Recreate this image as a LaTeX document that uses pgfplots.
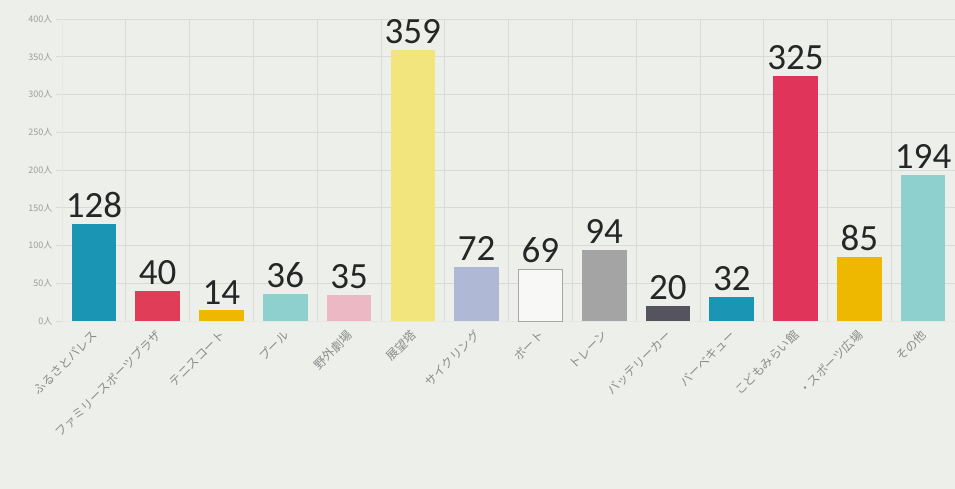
\documentclass[border=0pt]{standalone}
\usepackage{pgfplots}
\pgfplotsset{compat=1.18}
\usepackage{fontspec}
\setmainfont{Noto Sans CJK JP}
\newfontfamily\carlito{Carlito}
\usetikzlibrary{backgrounds,calc}
\definecolor{bg}{HTML}{EDEFEB}
\definecolor{gridc}{HTML}{D9DBD7}
\definecolor{labc}{HTML}{8C8C8C}
\definecolor{cA}{HTML}{1A95B4}
\definecolor{cB}{HTML}{DF3D58}
\definecolor{cC}{HTML}{EFB800}
\definecolor{cD}{HTML}{8ED0CE}
\definecolor{cE}{HTML}{EBB8C4}
\definecolor{cF}{HTML}{F3E57E}
\definecolor{cG}{HTML}{AFB8D5}
\definecolor{cH}{HTML}{F8F8F6}
\definecolor{cI}{HTML}{A4A4A4}
\definecolor{cJ}{HTML}{55535E}
\definecolor{cK}{HTML}{E0345A}
\begin{document}
\begin{tikzpicture}
\begin{axis}[
  name=ax,
  scale only axis, width=893bp, height=302bp,
  xmin=-0.5, xmax=13.5, ymin=0, ymax=400,
  ybar, bar width=0.7, bar shift=0pt,
  clip=false,
  /pgf/number format/assume math mode=true,
  xtick={0,...,13},
  xticklabels={ふるさとパレス,ファミリースポーツプラザ,テニスコート,プール,野外劇場,展望塔,サイクリング,ボート,トレーン,バッテリーカー,バーベキュー,こどもみらい館,・スポーツ広場,その他},
  xticklabel style={rotate=45, anchor=east, font=\fontsize{12bp}{12bp}\selectfont, text=labc, yshift=-5bp},
  major x tick style={draw=none},
  minor xtick={-0.5,0.5,...,13.5},
  xminorgrids=true,
  minor x tick style={draw=none},
  ytick={0,50,...,400},
  yticklabels={0人,50人,100人,150人,200人,250人,300人,350人,400人},
  yticklabel style={font=\fontsize{9bp}{9bp}\selectfont, text=labc!85},
  ymajorgrids=true,
  grid style={gridc, line width=0.6bp},
  minor grid style={gridc, line width=0.6bp},
  y tick style={gridc, line width=0.6bp},
  tick align=outside, major tick length=6bp,
  axis x line*=bottom, axis y line*=left,
  axis line style={draw=gridc!80!black!30, line width=0.8bp},
  nodes near coords,
  every node near coord/.append style={font=\carlito\fontsize{37bp}{37bp}\selectfont, text=black!85, inner sep=1bp, yshift=5bp},
]
\addplot[fill=cA, draw=none] coordinates {(0,128)};
\addplot[fill=cB, draw=none] coordinates {(1,40)};
\addplot[fill=cC, draw=none] coordinates {(2,14)};
\addplot[fill=cD, draw=none] coordinates {(3,36)};
\addplot[fill=cE, draw=none] coordinates {(4,35)};
\addplot[fill=cF, draw=none] coordinates {(5,359)};
\addplot[fill=cG, draw=none] coordinates {(6,72)};
\addplot[fill=cH, draw=black!35, line width=0.8bp] coordinates {(7,69)};
\addplot[fill=cI, draw=none] coordinates {(8,94)};
\addplot[fill=cJ, draw=none] coordinates {(9,20)};
\addplot[fill=cA, draw=none] coordinates {(10,32)};
\addplot[fill=cK, draw=none] coordinates {(11,325)};
\addplot[fill=cC, draw=none] coordinates {(12,85)};
\addplot[fill=cD, draw=none] coordinates {(13,194)};
\end{axis}
\begin{scope}[on background layer]
\fill[bg] ($(ax.south west)+(-62bp,-168bp)$) rectangle ($(ax.north east)+(0,19bp)$);
\end{scope}
\pgfresetboundingbox
\path[use as bounding box] ($(ax.south west)+(-62bp,-168bp)$) rectangle ($(ax.north east)+(0,19bp)$);
\end{tikzpicture}
\end{document}
